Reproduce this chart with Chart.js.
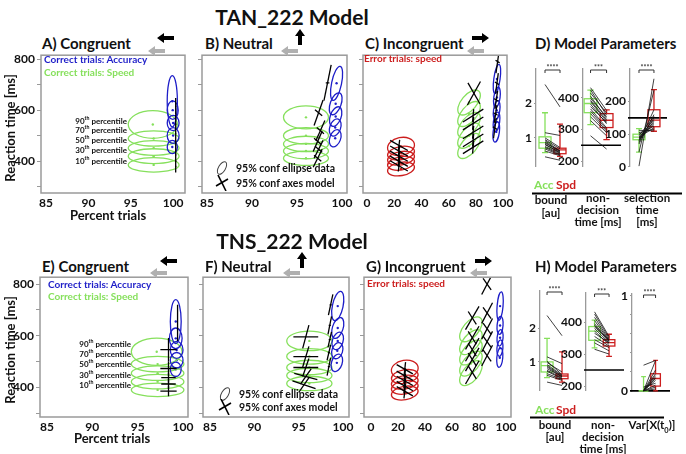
<!DOCTYPE html>
<html>
<head>
<meta charset="utf-8">
<script src="https://cdn.jsdelivr.net/npm/chart.js@4.4.0/dist/chart.umd.min.js"></script>
<style>
  body { margin: 0; width: 686px; height: 454px; background: #fff; position: relative; overflow: hidden;
         font-family: Lato, "Open Sans", sans-serif; font-weight: bold; color: #111; }
  .t { position: absolute; white-space: nowrap; line-height: 1; }
  .t sup, .t sub { font-size: 65%; line-height: 0; }
  canvas, svg { position: absolute; }
</style>
</head>
<body>
<script>
const BLUE = '#1e1ec8', GREEN = '#86e05c', RED = '#cc1e1e', FRAME = '#9a9a9a', GREY_ARROW = '#b0b0b0';

// ---- ellipse data: [x (% trials), y (ms), half-width (%), half-height (ms), tilt (deg)] ----
const accEllA = [[99.9, 635, 0.6, 100, 0], [99.95, 600, 0.65, 36, 0], [100.0, 550, 0.7, 30, 0], [100.0, 501, 0.7, 31, 0], [99.9, 456, 0.6, 26, 0]];
const spdEllA = [[97.6, 544, 2.9, 54, 0], [97.7, 489, 3.0, 30, 0], [97.7, 452, 3.0, 29, 0], [97.7, 420, 3.0, 29, 0], [97.7, 386, 3.0, 28, 0]];
const accEllB = [[99.4, 705, 0.55, 68, 12], [99.3, 625, 0.6, 45, 20], [99.3, 575, 0.6, 40, 20], [99.25, 532, 0.6, 35, 20], [99.25, 490, 0.6, 35, 20]];
const spdEllB = [[96.0, 572, 2.5, 45, 0], [96.0, 500, 2.5, 32, 0], [96.0, 468, 2.5, 30, 0], [96.0, 440, 2.5, 30, 0], [96.0, 412, 2.5, 28, 0]];
const accEllC = [[95.5, 722, 2.3, 58, 8], [95.5, 650, 2.3, 40, 8], [95.3, 600, 2.3, 38, 8], [95.2, 555, 2.3, 38, 8], [95.0, 515, 2.3, 40, 8]];
const spdEllC = [[75, 630, 11, 30, -50], [75, 585, 11, 30, -50], [75, 542, 11, 30, -50], [75, 500, 11, 30, -50], [75, 460, 11, 30, -50]];
const errEllC = [[25, 458, 10, 35, -12], [25, 432, 10, 26, -10], [25, 412, 10, 26, -10], [25, 392, 10, 26, -10], [25, 370, 10, 26, -10]];

const accEllE = [[99.2, 655, 0.6, 85, 0], [99.2, 590, 0.7, 40, 0], [99.3, 545, 0.7, 33, 0], [99.3, 505, 0.7, 30, 0], [99.2, 470, 0.6, 28, 0]];
const spdEllE = [[97.1, 538, 2.8, 53, 0], [97.2, 490, 2.9, 30, 0], [97.2, 455, 2.9, 28, 0], [97.2, 422, 2.9, 28, 0], [97.2, 390, 2.9, 26, 0]];
const accEllF = [[99.4, 715, 0.6, 58, 12], [99.4, 630, 0.6, 42, 18], [99.4, 580, 0.6, 35, 18], [99.35, 542, 0.6, 32, 18], [99.3, 495, 0.6, 35, 18]];
const spdEllF = [[96.2, 580, 2.55, 38, 0], [96.2, 520, 2.55, 30, 0], [96.2, 477, 2.55, 28, 0], [96.2, 446, 2.55, 28, 0], [96.2, 415, 2.55, 28, 0]];
const accEllG = [[95.6, 715, 2.2, 55, 5], [95.6, 640, 2.2, 35, 5], [95.6, 592, 2.2, 32, 5], [95.5, 552, 2.2, 32, 5], [95.4, 515, 2.2, 38, 5]];
const spdEllG = [[74, 625, 11, 30, -50], [74, 575, 11, 30, -50], [74, 535, 11, 30, -50], [74, 492, 11, 30, -50], [74, 455, 11, 30, -50]];
const errEllG = [[25, 470, 10, 35, -10], [25, 442, 10, 26, -10], [25, 420, 10, 26, -10], [25, 400, 10, 26, -10], [25, 378, 10, 26, -10]];

// ---- model axes crosses: [x, y, long dx, long dy, short dx, short dy] (half lengths) ----
const crossA = [[100.3, 615, 0, 33, 0.08, 0], [100.3, 545, 0, 38, 0.08, 0], [100.3, 480, 0, 30, 0.08, 0], [100.3, 425, 0, 28, 0.08, 0], [100.3, 380, 0, 24, 0.08, 0]];
const crossB = [[98.4, 707, 0.4, 70, 0.2, 0], [97.4, 590, 0.5, 50, 0.4, -12], [97.6, 520, 0.5, 40, 0.4, -12], [97.3, 478, 0.5, 40, 0.4, -12], [97.4, 447, 0.5, 35, 0.4, -12], [97.3, 412, 0.5, 35, 0.4, -12]];
const crossC = [[23.5, 462, 0.5, 22, 6.5, -20], [23.5, 440, 0.5, 22, 6.5, -20], [23.5, 420, 0.5, 22, 6.5, -20], [23.5, 400, 0.5, 22, 6.5, -20], [23.5, 382, 0.5, 22, 6.5, -20],
                [78.6, 666, 4.4, -41, 4.8, 46], [78, 579, 7.5, 25, 0.4, 25], [78, 548, 7.5, 25, 0.4, 25], [78, 513, 7.5, 25, 0.4, 25], [78, 482, 7.5, 25, 0.4, 25], [78, 455, 7.5, 25, 0.4, 25],
                [96, 790, 1.2, 45, 1.5, -5], [95.5, 705, 1, 40, 1.5, -5], [95, 640, 1, 35, 1.5, -5], [94.5, 585, 1, 35, 1.5, -5], [94, 530, 1, 40, 1.5, -5]];
const crossE = [[98.4, 546, 0, 45, 0.9, 0], [98.4, 473, 0, 28, 0.9, 0], [98.4, 438, 0, 20, 0.8, 0], [98.4, 413, 0, 18, 0.8, 0], [98.4, 385, 0, 20, 0.9, 0], [99.4, 650, 0, 70, 0, 0]];
const crossF = [[95.8, 596, 0.35, 45, 1.4, 0], [95.8, 519, 0.35, 40, 1.4, 0], [95.8, 477, 0.35, 35, 1.4, 0], [95.8, 442, 0.6, 30, 1.3, -12], [95.6, 410, 0.6, 30, 1.3, -15],
                [98.6, 720, 0.25, 40, 0.12, 0], [98.5, 640, 0.2, 35, 0.12, 0], [98.5, 585, 0.2, 30, 0.12, 0], [98.4, 535, 0.2, 30, 0.12, 0], [98.4, 480, 0.2, 35, 0.12, 0]];
const crossG = [[25, 470, 0.6, 28, 6, -18], [25, 445, 0.6, 28, 6, -18], [25, 425, 0.6, 28, 6, -18], [25, 405, 0.6, 28, 6, -18], [25, 385, 0.6, 28, 6, -18],
                [75, 669, 5, 45, 3, -25], [75, 592, 5, 45, 3, -25], [75, 546, 5, 45, 3, -25], [75, 508, 5, 45, 3, -25], [75, 458, 5, 45, 3, -25],
                [86, 800, 4, 40, 3, -22], [86, 688, 4, 40, 3, -22], [86, 627, 4, 40, 3, -22], [86, 577, 4, 40, 3, -22], [86, 523, 4, 40, 3, -22]];

// ---- model parameters: box stats [low whisker, q1, median, q3, high whisker] and per-subject values ----
const boundAccD = [0.57, 0.70, 0.86, 1.03, 1.73], boundSpdD = [0.46, 0.54, 0.65, 0.70, 1.40];
const boundSubAccD = [2.55, 1.15, 1.0, 0.95, 0.92, 0.88, 0.85, 0.82, 0.8, 0.75, 0.72, 0.68, 0.62, 0.45];
const boundSubSpdD = [1.9, 1.07, 0.72, 0.68, 0.62, 0.6, 0.62, 0.56, 0.58, 0.55, 0.52, 0.5, 0.48, 0.35];
const ndAccD = [315, 353, 382, 397, 424], ndSpdD = [268, 306, 329, 350, 362];
const ndSubAccD = [432, 425, 415, 405, 398, 392, 388, 380, 372, 365, 358, 350, 340, 328, 280];
const ndSubSpdD = [360, 345, 352, 335, 340, 330, 325, 318, 322, 305, 300, 295, 290, 280, 238];
const selAccD = [45, 83, 91, 100, 117], selSpdD = [109, 123, 143, 175, 237];
const selSubAccD = [2, 45, 70, 75, 80, 82, 85, 88, 90, 92, 95, 100, 105, 112];
const selSubSpdD = [270, 235, 160, 175, 140, 150, 130, 145, 120, 135, 155, 125, 115, 110];

const boundAccH = [0.53, 0.70, 0.89, 1.0, 1.7], boundSpdH = [0.4, 0.5, 0.58, 0.64, 1.3];
const boundSubAccH = [2.38, 1.15, 1.02, 0.98, 0.92, 0.88, 0.85, 0.8, 0.75, 0.72, 0.65, 0.6, 0.4];
const boundSubSpdH = [1.78, 0.95, 0.62, 0.7, 0.6, 0.58, 0.55, 0.56, 0.52, 0.5, 0.48, 0.45, 0.3];
const ndAccH = [319, 343, 372, 386, 406], ndSpdH = [293, 325, 336, 345, 362];
const ndSubAccH = [432, 425, 415, 405, 395, 390, 385, 380, 372, 365, 355, 345, 335, 315];
const ndSubSpdH = [355, 350, 345, 342, 340, 338, 345, 335, 330, 335, 325, 320, 310, 300];
const varAccH = [0, 0, 0, 0, 0.15], varSpdH = [0, 0.05, 0.13, 0.18, 0.32];
const varSubAccH = [0.27, 0, 0, 0, 0, 0, 0, 0, 0.04, 0, 0, 0];
const varSubSpdH = [0.32, 0.32, 0.22, 0.18, 0.16, 0.14, 0.13, 0.11, 0.08, 0.06, 0.04, 0.02];

// tick values
const pctTicks = [85, 90, 95, 100];
const errTicks = [0, 20, 40, 60, 80, 100];
const rtTicks = [300, 400, 500, 600, 700, 800];
const rtLabels = [400, 600, 800];

Chart.defaults.font.family = 'Lato, "Open Sans", sans-serif';
Chart.defaults.font.weight = 'bold';
Chart.defaults.color = '#111';

function put(html, x, y, size, color, align, rot) {
  const d = document.createElement('div');
  d.className = 't';
  d.innerHTML = html;
  const tx = align === 'c' ? '-50%' : align === 'r' ? '-100%' : '0';
  d.style.cssText = `left:${x}px;top:${y}px;font-size:${size}px;color:${color || '#111'};` +
    `transform:translate(${tx},-50%)${rot ? ' rotate(' + rot + 'deg)' : ''}`;
  document.body.appendChild(d);
}

function svgAt(x, y, w, h, inner) {
  const s = document.createElementNS('http://www.w3.org/2000/svg', 'svg');
  s.setAttribute('width', w); s.setAttribute('height', h);
  s.style.left = x + 'px'; s.style.top = y + 'px';
  s.innerHTML = inner;
  document.body.appendChild(s);
}

function arrow(x, y, dir, color) {
  const pts = {
    left: '0,5 7,0 7,3 17,3 17,7 7,7 7,10',
    right: '17,5 10,0 10,3 0,3 0,7 10,7 10,10',
    up: '5,0 10,7 7,7 7,16 3,16 3,7 0,7'
  }[dir];
  const up = dir === 'up';
  svgAt(x, y, up ? 10 : 17, up ? 16 : 10, `<polygon points="${pts}" fill="${color}"/>`);
}

function canvasAt(left, top, w, h) {
  const c = document.createElement('canvas');
  c.width = w; c.height = h;
  c.style.left = left + 'px'; c.style.top = top + 'px';
  document.body.appendChild(c);
  return c;
}

// draws ellipses + model crosses + frame through the chart's scales
function shapesPlugin(groups, crosses) {
  return {
    id: 'shapes',
    afterDatasetsDraw(chart) {
      const { ctx, chartArea: a, scales: { x, y } } = chart;
      ctx.save();
      ctx.beginPath();
      ctx.rect(a.left, a.top, a.right - a.left, a.bottom - a.top);
      ctx.clip();
      groups.forEach(g => {
        ctx.strokeStyle = g.color;
        ctx.lineWidth = 1.3;
        g.ell.forEach(([cx, cy, rx, ry, tilt]) => {
          const px = x.getPixelForValue(cx), py = y.getPixelForValue(cy);
          const rxp = Math.abs(x.getPixelForValue(cx + rx) - px);
          const ryp = Math.abs(y.getPixelForValue(cy + ry) - py);
          ctx.beginPath();
          ctx.ellipse(px, py, rxp, ryp, tilt * Math.PI / 180, 0, 2 * Math.PI);
          ctx.stroke();
        });
      });
      ctx.strokeStyle = '#000';
      ctx.lineWidth = 1.3;
      crosses.forEach(([cx, cy, ldx, ldy, sdx, sdy]) => {
        [[ldx, ldy], [sdx, sdy]].forEach(([dx, dy]) => {
          if (!dx && !dy) return;
          ctx.beginPath();
          ctx.moveTo(x.getPixelForValue(cx - dx), y.getPixelForValue(cy - dy));
          ctx.lineTo(x.getPixelForValue(cx + dx), y.getPixelForValue(cy + dy));
          ctx.stroke();
        });
      });
      ctx.restore();
      ctx.save();
      ctx.strokeStyle = FRAME;
      ctx.lineWidth = 1.5;
      ctx.strokeRect(a.left, a.top, a.right - a.left, a.bottom - a.top);
      ctx.restore();
    }
  };
}

function ellPanel(frame, xr, xt, yr, showY, groups, crosses) {
  const [l, t, r, b] = frame;
  const c = canvasAt(l - 32, t - 8, r - l + 44, b - t + 28);
  new Chart(c, {
    type: 'scatter',
    data: {
      datasets: groups.map(g => ({
        data: g.ell.map(e => ({ x: e[0], y: e[1] })),
        pointRadius: 1.2, backgroundColor: g.color, borderWidth: 0
      }))
    },
    options: {
      animation: false, responsive: false, events: [],
      layout: { padding: { top: 8, right: 12, left: 0, bottom: 0 } },
      plugins: { legend: { display: false }, tooltip: { enabled: false } },
      scales: {
        x: {
          type: 'linear', min: xr[0], max: xr[1],
          afterBuildTicks: s => { s.ticks = xt.map(v => ({ value: v })); },
          grid: { display: false, drawTicks: false }, border: { display: false },
          ticks: { font: { size: 12 }, padding: 3, maxRotation: 0, autoSkip: false },
          afterFit: s => { s.height = 20; }
        },
        y: {
          min: yr[0], max: yr[1],
          afterBuildTicks: s => { s.ticks = rtTicks.map(v => ({ value: v })); },
          grid: { drawOnChartArea: false, drawTicks: true, tickLength: 4, color: FRAME },
          border: { display: false },
          ticks: { font: { size: 12 }, padding: 2, autoSkip: false,
                   callback: v => (showY && rtLabels.includes(v)) ? String(v) : '' },
          afterFit: s => { s.width = 32; }
        }
      }
    },
    plugins: [shapesPlugin(groups, crosses)]
  });
}

// box plots, reference line and significance bracket
function boxPlugin(acc, spd, ref, stars) {
  return {
    id: 'boxes',
    beforeDatasetsDraw(chart) {
      const { ctx, chartArea: a, scales: { x, y } } = chart;
      ctx.save();
      if (ref !== null) {
        ctx.strokeStyle = '#000'; ctx.lineWidth = 1.6;
        ctx.beginPath();
        ctx.moveTo(a.left - 2, y.getPixelForValue(ref));
        ctx.lineTo(a.right, y.getPixelForValue(ref));
        ctx.stroke();
      }
      [[acc, 1, GREEN], [spd, 2, RED]].forEach(([s, pos, col]) => {
        const [lo, q1, md, q3, hi] = s.map(v => y.getPixelForValue(v));
        const xc = x.getPixelForValue(pos);
        const hw = x.getPixelForValue(pos + 0.4) - xc;
        const cw = x.getPixelForValue(pos + 0.2) - xc;
        ctx.strokeStyle = col; ctx.lineWidth = 1.3;
        ctx.beginPath();
        ctx.moveTo(xc, hi); ctx.lineTo(xc, q3);
        ctx.moveTo(xc, q1); ctx.lineTo(xc, lo);
        ctx.moveTo(xc - cw, hi); ctx.lineTo(xc + cw, hi);
        ctx.moveTo(xc - cw, lo); ctx.lineTo(xc + cw, lo);
        ctx.moveTo(xc - hw, md); ctx.lineTo(xc + hw, md);
        ctx.stroke();
        ctx.strokeRect(xc - hw, q3, 2 * hw, q1 - q3);
      });
      // significance bracket
      const x1 = x.getPixelForValue(1), x2 = x.getPixelForValue(2), yb = a.top + 1;
      ctx.strokeStyle = '#333'; ctx.lineWidth = 1;
      ctx.beginPath();
      ctx.moveTo(x1, yb + 3); ctx.lineTo(x1, yb); ctx.lineTo(x2, yb); ctx.lineTo(x2, yb + 3);
      ctx.stroke();
      ctx.fillStyle = '#333';
      ctx.font = 'bold 7px Lato';
      ctx.textAlign = 'center';
      ctx.fillText(stars, (x1 + x2) / 2, yb - 0.5);
      ctx.restore();
    }
  };
}

function paramPanel(axisX, top, bottom, right, xr, yr, yTicks, yLabels, labW, acc, spd, subAcc, subSpd, ref, stars) {
  const c = canvasAt(axisX - labW, top - 10, right - axisX + labW, bottom - top + 12);
  new Chart(c, {
    type: 'scatter',
    data: {
      datasets: subAcc.map((v, i) => ({
        data: [{ x: 1, y: v }, { x: 2, y: subSpd[i] }],
        showLine: true, borderColor: '#111', borderWidth: 0.8, pointRadius: 0
      }))
    },
    options: {
      animation: false, responsive: false, events: [],
      layout: { padding: { top: 10, right: 0, left: 0, bottom: 2 } },
      plugins: { legend: { display: false }, tooltip: { enabled: false } },
      scales: {
        x: { type: 'linear', display: false, min: xr[0], max: xr[1] },
        y: {
          min: yr[0], max: yr[1],
          afterBuildTicks: s => { s.ticks = yTicks.map(v => ({ value: v })); },
          grid: { drawOnChartArea: false, drawTicks: true, tickLength: 2, color: FRAME },
          border: { display: true, color: FRAME, width: 1.3 },
          ticks: { font: { size: 12 }, padding: 2, autoSkip: false,
                   callback: v => yLabels.includes(v) ? String(v) : '' },
          afterFit: s => { s.width = labW; }
        }
      }
    },
    plugins: [boxPlugin(acc, spd, ref, stars)]
  });
}

// ---------------- row 1 ----------------
put('TAN_222 Model', 292, 16, 21, '#111', 'c');
put('A) Congruent', 42, 43, 15);
put('B) Neutral', 205, 43, 15);
put('C) Incongruent', 365, 43, 15);
put('D) Model Parameters', 535, 43, 15);

ellPanel([41, 54, 185, 193], [84.4, 101.4], pctTicks, [276, 815], true,
  [{ ell: spdEllA, color: GREEN }, { ell: accEllA, color: BLUE }], crossA);
ellPanel([202, 54, 347, 193], [84.44, 100.56], pctTicks, [276, 815], false,
  [{ ell: spdEllB, color: GREEN }, { ell: accEllB, color: BLUE }], crossB);
ellPanel([363, 54, 507, 193], [-2.94, 102.9], errTicks, [276, 815], false,
  [{ ell: errEllC, color: RED }, { ell: spdEllC, color: GREEN }, { ell: accEllC, color: BLUE }], crossC);

paramPanel(536, 69, 174, 575, [0.4, 3.0], [0.16, 3.0], [1, 2], [1, 2], 16, boundAccD, boundSpdD, boundSubAccD, boundSubSpdD, null, '****');
paramPanel(583, 69, 174, 621, [0.53, 2.9], [182, 491], [200, 300, 400], [200, 300, 400], 26, ndAccD, ndSpdD, ndSubAccD, ndSubSpdD, 250, '***');
paramPanel(630, 69, 174, 667, [0.4, 2.87], [0, 300], [0, 100, 200], [0, 100, 200], 26, selAccD, selSpdD, selSubAccD, selSubSpdD, 150, '****');

// ---------------- row 2 ----------------
put('TNS_222 Model', 292, 240, 21, '#111', 'c');
put('E) Congruent', 42, 266, 15);
put('F) Neutral', 205, 266, 15);
put('G) Incongruent', 366, 266, 15);
put('H) Model Parameters', 535, 266, 15);

ellPanel([40, 276, 188, 417], [84.23, 100.55], pctTicks, [285, 827], true,
  [{ ell: spdEllE, color: GREEN }, { ell: accEllE, color: BLUE }], crossE);
ellPanel([203, 276, 349, 417], [84.21, 100.67], pctTicks, [285, 827], false,
  [{ ell: spdEllF, color: GREEN }, { ell: accEllF, color: BLUE }], crossF);
ellPanel([364, 276, 511, 417], [-5.2, 103.7], errTicks, [285, 827], false,
  [{ ell: errEllG, color: RED }, { ell: spdEllG, color: GREEN }, { ell: accEllG, color: BLUE }], crossG);

paramPanel(540, 291, 398, 580, [0.53, 3.2], [0.14, 3.11], [1, 2], [1, 2], 16, boundAccH, boundSpdH, boundSubAccH, boundSubSpdH, null, '****');
paramPanel(586, 293, 398, 624, [0.41, 3.03], [185, 491], [200, 300, 400], [200, 300, 400], 26, ndAccH, ndSpdH, ndSubAccH, ndSubSpdH, 250, '***');
paramPanel(632, 294, 399, 670, [0.04, 3.2], [-0.01, 1.02], [0, 0.2, 0.4, 0.6, 0.8, 1], [0, 1], 16, varAccH, varSpdH, varSubAccH, varSubSpdH, 0, '****');

// ---------------- text annotations ----------------
put('Reaction time [ms]', 10, 128, 13, '#111', 'c', -90);
put('Reaction time [ms]', 10, 350, 13, '#111', 'c', -90);
put('Percent trials', 108, 215, 13, '#111', 'c');
put('Percent trials', 112, 438, 13, '#111', 'c');

put('Correct trials: Accuracy', 44, 59, 10, BLUE);
put('Correct trials: Speed', 44, 72, 10, GREEN);
put('Correct trials: Accuracy', 48, 284, 10, BLUE);
put('Correct trials: Speed', 48, 296, 10, GREEN);
const pctNames = ['90', '70', '50', '30', '10'];
[121, 130, 140, 150, 161].forEach((y, i) => put(pctNames[i] + '<sup>th</sup> percentile', 127, y, 8, '#111', 'r'));
[344, 354, 364, 375, 385].forEach((y, i) => put(pctNames[i] + '<sup>th</sup> percentile', 131, y, 8, '#111', 'r'));

put('Error trials: speed', 364, 58, 10, RED);
put('Error trials: speed', 367, 283, 10, RED);

// legends in B and F
[[222, 168], [225, 394]].forEach(([x, y]) => {
  svgAt(x - 7, y - 8, 14, 16, '<ellipse cx="7" cy="8" rx="3.5" ry="7" transform="rotate(30 7 8)" fill="none" stroke="#444" stroke-width="1"/>');
  put('95% conf ellipse data', x + 14, y, 10.5);
});
[[222, 183], [225, 407]].forEach(([x, y]) => {
  svgAt(x - 7, y - 8, 14, 16, '<line x1="3" y1="0" x2="11" y2="16" stroke="#000" stroke-width="1.6"/><line x1="1" y1="11" x2="13" y2="4" stroke="#000" stroke-width="1.6"/>');
  put('95% conf axes model', x + 14, y, 10.5);
});

// arrows
arrow(148, 46, 'left', GREY_ARROW); arrow(157, 33, 'left', '#000');
arrow(281, 46, 'left', GREY_ARROW); arrow(295, 29, 'up', '#000');
arrow(467, 46, 'left', GREY_ARROW); arrow(472, 33, 'right', '#000');
arrow(150, 268, 'left', GREY_ARROW); arrow(160, 256, 'left', '#000');
arrow(283, 268, 'left', GREY_ARROW); arrow(297, 252, 'up', '#000');
arrow(470, 268, 'left', GREY_ARROW); arrow(475, 256, 'right', '#000');

// model parameter footers
put('Acc', 534, 185, 12, GREEN); put('Spd', 556, 185, 12, RED);
put('Acc', 535, 410, 12, GREEN); put('Spd', 556, 410, 12, RED);
svgAt(530, 192, 156, 3, '<line x1="2" y1="1.5" x2="152" y2="1.5" stroke="#000" stroke-width="1.8"/>');
svgAt(530, 416, 140, 3, '<line x1="0" y1="1.5" x2="134" y2="1.5" stroke="#000" stroke-width="1.8"/>');
put('bound', 551, 200, 11.5, '#111', 'c'); put('[au]', 551, 213, 11.5, '#111', 'c');
put('non-', 598, 198, 11.5, '#111', 'c'); put('decision', 598, 210, 11.5, '#111', 'c'); put('time [ms]', 598, 222, 11.5, '#111', 'c');
put('selection', 647, 198, 11.5, '#111', 'c'); put('time', 647, 210, 11.5, '#111', 'c'); put('[ms]', 647, 222, 11.5, '#111', 'c');
put('bound', 555, 425, 11.5, '#111', 'c'); put('[au]', 555, 437, 11.5, '#111', 'c');
put('non-', 603, 425, 11.5, '#111', 'c'); put('decision', 603, 437, 11.5, '#111', 'c'); put('time [ms]', 603, 449, 11.5, '#111', 'c');
put('Var[X(t<sub>0</sub>)]', 652, 425, 11.5, '#111', 'c');
</script>
</body>
</html>
